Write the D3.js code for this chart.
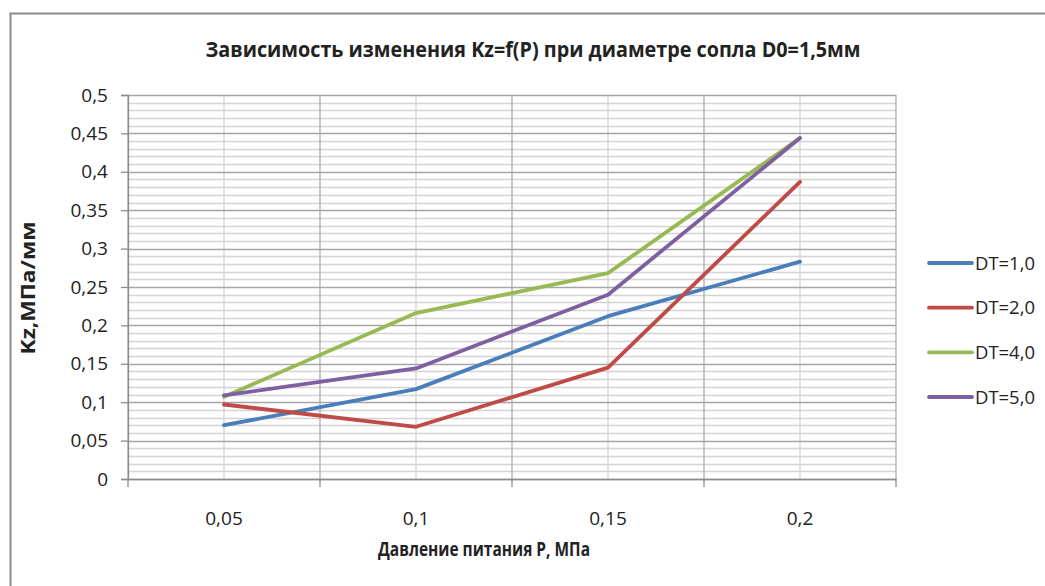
<!DOCTYPE html>
<html>
<head>
<meta charset="utf-8">
<script src="https://cdn.jsdelivr.net/npm/d3@7"></script>
<style>
  html, body { margin: 0; padding: 0; background: #fff; }
  svg { display: block; }
  text { font-family: "Open Sans", "Noto Sans", "DejaVu Sans", sans-serif; fill: #222; }
</style>
</head>
<body>
<svg id="chart" width="1045" height="586"></svg>
<script>
// ---- data ----
const categories = ["0,05", "0,1", "0,15", "0,2"];
const seriesNames = ["DT=1,0", "DT=2,0", "DT=4,0", "DT=5,0"];
const dt1 = [0.070, 0.117, 0.212, 0.283];
const dt2 = [0.097, 0.068, 0.145, 0.387];
const dt4 = [0.107, 0.216, 0.268, 0.444];
const dt5 = [0.109, 0.144, 0.240, 0.444];
const yTickValues = [0, 0.05, 0.1, 0.15, 0.2, 0.25, 0.3, 0.35, 0.4, 0.45, 0.5];
const titleText = "Зависимость изменения Kz=f(P) при диаметре сопла D0=1,5мм";
const xTitle = "Давление питания Р, МПа";
const yTitle = "Kz,МПа/мм";

const seriesValues = [dt1, dt2, dt4, dt5];
const colors = ["#4a7ebb", "#be4b48", "#98b954", "#7d60a0"];

const svg = d3.select("#chart");
const pLeft = 128, pRight = 896, pTop = 95, pBottom = 479;

const x = d3.scaleBand().domain(categories).range([pLeft, pRight]).padding(0);
const xc = c => x(c) + x.bandwidth() / 2;
const y = d3.scaleLinear().domain([0, 0.5]).range([pBottom, pTop]);
const ru = d3.formatLocale({decimal: ",", thousands: " ", grouping: [3], currency: ["", ""]});
const fmt = v => ru.format("~g")(+v.toFixed(3));

// outer frame
svg.append("rect").attr("x", 10.5).attr("y", 13.5).attr("width", 1100).attr("height", 700)
  .attr("fill", "none").attr("stroke", "#8c8c8c").attr("stroke-width", 2);

// minor horizontal grid
const minor = d3.range(0, 51).map(i => i / 100);
svg.append("g").selectAll("line").data(minor.filter((d, i) => i % 5 !== 0)).join("line")
  .attr("x1", pLeft).attr("x2", pRight)
  .attr("y1", d => Math.round(y(d)) + 0.5).attr("y2", d => Math.round(y(d)) + 0.5)
  .attr("stroke", "#d4d4d4").attr("stroke-width", 1.5);

// minor vertical grid (category centres)
svg.append("g").selectAll("line").data(categories).join("line")
  .attr("x1", d => xc(d)).attr("x2", d => xc(d))
  .attr("y1", pTop).attr("y2", pBottom)
  .attr("stroke", "#cfcfcf").attr("stroke-width", 1.2);

// major horizontal grid
svg.append("g").selectAll("line").data(yTickValues).join("line")
  .attr("x1", pLeft).attr("x2", pRight)
  .attr("y1", d => Math.round(y(d)) + 0.5).attr("y2", d => Math.round(y(d)) + 0.5)
  .attr("stroke", "#a6a6a6").attr("stroke-width", 1.3);

// major vertical grid (category boundaries)
const bounds = categories.map(c => x(c)).concat([pRight]);
svg.append("g").selectAll("line").data(bounds).join("line")
  .attr("x1", d => d).attr("x2", d => d)
  .attr("y1", pTop).attr("y2", pBottom)
  .attr("stroke", "#a6a6a6").attr("stroke-width", 1.2);

// y axis
const yAxis = d3.axisLeft(y).tickValues(yTickValues).tickSize(7).tickPadding(13).tickFormat(fmt);
const gy = svg.append("g").attr("transform", `translate(${pLeft},0)`).call(yAxis);
gy.select(".domain").attr("stroke", "#8c8c8c").attr("stroke-width", 1.3);
gy.selectAll(".tick line").attr("stroke", "#8c8c8c").attr("stroke-width", 1.3);
gy.selectAll(".tick text").style("font-size", "19px").attr("fill", "#222")
  .style("font-family", "'Open Sans', sans-serif");

// x axis
const xAxis = d3.axisBottom(x).tickSize(0).tickPadding(33);
const gx = svg.append("g").attr("transform", `translate(0,${pBottom})`).call(xAxis);
gx.select(".domain").attr("stroke", "#8c8c8c").attr("stroke-width", 1.3);
gx.selectAll(".tick text").style("font-size", "19px").attr("fill", "#222")
  .style("font-family", "'Open Sans', sans-serif");
// boundary tick marks
svg.append("g").selectAll("line").data(bounds).join("line")
  .attr("x1", d => d).attr("x2", d => d).attr("y1", pBottom).attr("y2", pBottom + 8)
  .attr("stroke", "#8c8c8c").attr("stroke-width", 1.3);

// lines
const line = d3.line().x((d, i) => xc(categories[i])).y(d => y(d));
svg.append("g").selectAll("path").data(seriesValues).join("path")
  .attr("d", d => line(d))
  .attr("fill", "none")
  .attr("stroke", (d, i) => colors[i])
  .attr("stroke-width", 3.8)
  .attr("stroke-linejoin", "round")
  .attr("stroke-linecap", "round");

// title
svg.append("text").attr("x", 533).attr("y", 57).attr("text-anchor", "middle")
  .style("font-size", "21px").style("font-weight", "bold")
  .attr("textLength", 655).attr("lengthAdjust", "spacingAndGlyphs")
  .text(titleText);

// x title
svg.append("text").attr("x", 484).attr("y", 556).attr("text-anchor", "middle")
  .style("font-size", "19px").style("font-weight", "bold")
  .attr("textLength", 212).attr("lengthAdjust", "spacingAndGlyphs")
  .text(xTitle);

// y title
svg.append("text").attr("transform", "translate(35,288) rotate(-90)").attr("text-anchor", "middle")
  .style("font-size", "19px").style("font-weight", "bold")
  .attr("textLength", 133).attr("lengthAdjust", "spacingAndGlyphs")
  .text(yTitle);

// legend
const legY = d3.scalePoint().domain(seriesNames).range([263, 397]);
const leg = svg.append("g").selectAll("g").data(seriesNames).join("g")
  .attr("transform", d => `translate(0,${legY(d)})`);
leg.append("line").attr("x1", 929).attr("x2", 972).attr("y1", 0).attr("y2", 0)
  .attr("stroke", (d, i) => colors[i]).attr("stroke-width", 3.8).attr("stroke-linecap", "round");
leg.append("text").attr("x", 975).attr("y", 0).attr("dy", "0.35em")
  .style("font-size", "19px")
  .attr("textLength", 60).attr("lengthAdjust", "spacingAndGlyphs")
  .text(d => d);
</script>
</body>
</html>
